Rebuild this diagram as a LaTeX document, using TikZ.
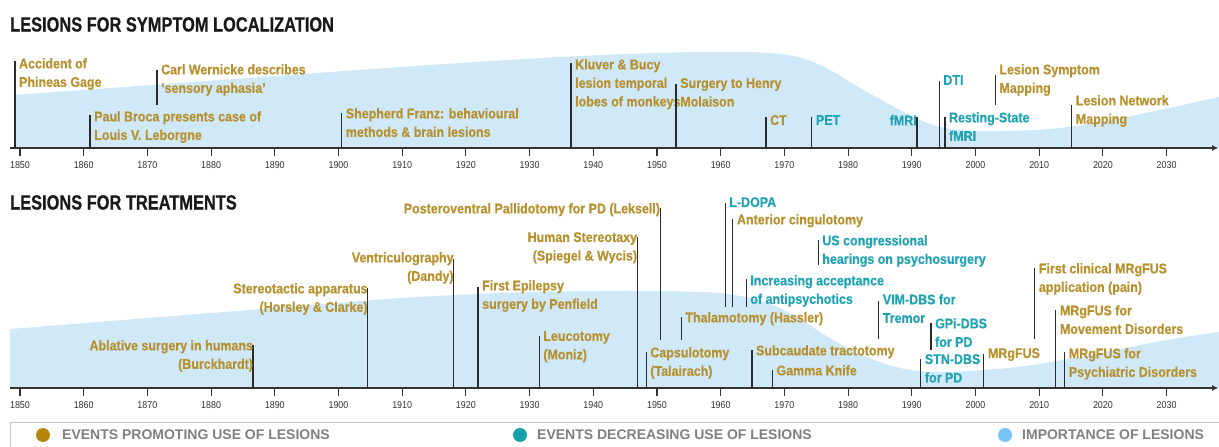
\documentclass[tikz,border=0pt]{standalone}
\usepackage{fontspec}
\setmainfont{Liberation Sans}
\newfontfamily\condfont[FakeStretch=0.89, BoldFeatures={FakeBold=0.5}]{Liberation Sans}
\newfontfamily\titlefont[FakeStretch=0.8, BoldFeatures={FakeBold=0.6}]{Liberation Sans}
\usetikzlibrary{arrows.meta}

\definecolor{gold}{HTML}{B8912F}
\definecolor{tealtxt}{HTML}{1FA2B2}
\definecolor{golddot}{HTML}{B5870F}
\definecolor{tealdot}{HTML}{13A1AA}
\definecolor{bluedot}{HTML}{76C4F7}
\definecolor{lesionblue}{HTML}{CFE9F8}
\definecolor{stemgray}{HTML}{2B2B2B}
\definecolor{axisgray}{HTML}{333333}
\definecolor{leggray}{HTML}{808080}
\definecolor{boxgray}{HTML}{C8C8C8}

\begin{document}
\begin{tikzpicture}[x=1pt, y=1pt,
  every node/.style={inner sep=0pt},
  ev/.style={font=\condfont\bfseries\fontsize{14pt}{18.5pt}\selectfont,
             align=left, anchor=north west, xshift=4pt},
  evl/.style={ev, align=right, anchor=north east, xshift=-4pt},
  up/.style={text=gold},
  down/.style={text=tealtxt},
  stem/.style={draw=stemgray, line width=1.3pt},
  axis/.style={draw=axisgray, line width=1.6pt, -{Latex[length=6pt, width=6pt]}},
  tick/.style={draw=axisgray, line width=1.1pt},
  year/.style={font=\condfont\fontsize{10pt}{12pt}\selectfont, text=axisgray},
  heading/.style={font=\titlefont\bfseries\fontsize{20.5pt}{24pt}\selectfont,
                  anchor=north west, text=black!90},
  legdot/.style={circle, minimum size=14pt, fill=#1},
  legtxt/.style={font=\bfseries\fontsize{14pt}{16pt}\selectfont, text=leggray, anchor=west},
  area/.style={fill=lesionblue},
]
\useasboundingbox (0,0) rectangle (1219,447);

% ── Importance of lesions (light blue bands) ─────────────────────────
\fill[area] (14,299) -- (14,352) -- plot[smooth, tension=0.6] coordinates {
  (400,380) (560,390) (700,395) (780,393) (820,382) (860,359) (900,337)
  (930,323) (960,317) (1000,316) (1050,318) (1100,325) (1160,337) (1219,350)}
  -- (1219,299) -- cycle;
\fill[area] (10,59) -- (10,118) -- plot[smooth, tension=0.6] coordinates {
  (400,149) (500,154) (600,156) (700,155) (740,151) (770,143) (800,128)
  (833,107) (867,90) (900,79) (933,75) (983,77) (1033,82) (1100,94)
  (1167,107) (1219,115)}
  -- (1219,59) -- cycle;

% ── Titles ───────────────────────────────────────────────────────────
\node[heading] (loc title)   at (10,430) {LESIONS FOR SYMPTOM LOCALIZATION};
\node[heading] (treat title) at (10,252) {LESIONS FOR TREATMENTS};

% ── Symptom localization timeline (1 year = 6.37pt) ──────────────────
\begin{scope}[x=6.37pt, shift={(-11764.5pt,299pt)}]
  \draw[axis] (1848.4,0) -- (2038.1,0);
  \foreach \decade in {1850,1860,...,2030} {
    \draw[tick] (\decade,-1) -- (\decade,-8);
    \node[year] (ta\decade) at (\decade,-17) {\decade};
  }

  \draw[stem] (1849.2,0) -- (1849.2,87);
  \node[ev, up] (gage) at (1849.2,90) {Accident of\\Phineas Gage};
  \draw[stem] (1861,0) -- (1861,33);
  \node[ev, up] (broca) at (1861,37) {Paul Broca presents case of\\Louis V. Leborgne};
  \draw[stem] (1871.5,43) -- (1871.5,78);
  \node[ev, up] (wernicke) at (1871.5,84) {Carl Wernicke describes\\‘sensory aphasia’};
  \draw[stem] (1900.5,0) -- (1900.5,35);
  \node[ev, up] (franz) at (1900.5,40) {Shepherd Franz: behavioural\\methods \& brain lesions};
  \draw[stem] (1936.5,0) -- (1936.5,85);
  \node[ev, up] (kluver) at (1936.5,89) {Kluver \& Bucy\\lesion temporal\\lobes of monkeys};
  \draw[stem] (1953,0) -- (1953,64);
  \node[ev, up] (molaison) at (1953,70) {Surgery to Henry\\Molaison};
  \draw[stem] (1967.1,0) -- (1967.1,31);
  \node[ev, up] (ct) at (1967.1,33) {CT};
  \draw[stem] (1974.3,0) -- (1974.3,31);
  \node[ev, down] (pet) at (1974.3,33) {PET};
  \draw[stem] (1990.8,0) -- (1990.8,31);
  \node[evl, down] (fmri) at (1990.8,33) {fMRI};
  \draw[stem] (1994.3,0) -- (1994.3,67);
  \node[ev, down] (dti) at (1994.3,73) {DTI};
  \draw[stem] (1995.2,0) -- (1995.2,31);
  \node[ev, down] (rsfmri) at (1995.2,36) {Resting-State\\fMRI};
  \draw[stem] (2003.1,43) -- (2003.1,73);
  \node[ev, up] (lsm) at (2003.1,84) {Lesion Symptom\\Mapping};
  \draw[stem] (2015.1,0) -- (2015.1,43);
  \node[ev, up] (lnm) at (2015.1,53) {Lesion Network\\Mapping};
\end{scope}

% ── Treatment timeline ───────────────────────────────────────────────
\begin{scope}[x=6.37pt, shift={(-11764.5pt,59pt)}]
  \draw[axis] (1848.4,0) -- (2038.1,0);
  \foreach \decade in {1850,1860,...,2030} {
    \draw[tick] (\decade,-1) -- (\decade,-8);
    \node[year] (tb\decade) at (\decade,-17) {\decade};
  }

  \draw[stem] (1886.6,0) -- (1886.6,43);
  \node[evl, up] (ablative) at (1886.6,48) {Ablative surgery in humans\\(Burckhardt)};
  \draw[stem] (1904.6,0) -- (1904.6,100);
  \node[evl, up] (horsley) at (1904.6,105) {Stereotactic apparatus\\(Horsley \& Clarke)};
  \draw[stem] (1918.1,0) -- (1918.1,129);
  \node[evl, up] (dandy) at (1918.1,136) {Ventriculography\\(Dandy)};
  \draw[stem] (1921.9,0) -- (1921.9,101);
  \node[ev, up] (penfield) at (1921.9,108) {First Epilepsy\\surgery by Penfield};
  \draw[stem] (1931.5,0) -- (1931.5,52);
  \node[ev, up] (moniz) at (1931.5,57) {Leucotomy\\(Moniz)};
  \draw[stem] (1946.9,0) -- (1946.9,151);
  \node[evl, up] (spiegel) at (1946.9,156) {Human Stereotaxy\\(Spiegel \& Wycis)};
  \draw[stem] (1948.3,0) -- (1948.3,36);
  \node[ev, up] (talairach) at (1948.3,41) {Capsulotomy\\(Talairach)};
  \draw[stem] (1950.5,48) -- (1950.5,180);
  \node[evl, up] (leksell) at (1950.5,185) {Posteroventral Pallidotomy for PD (Leksell)};
  \draw[stem] (1953.8,48) -- (1953.8,71);
  \node[ev, up] (hassler) at (1953.8,76) {Thalamotomy (Hassler)};
  \draw[stem] (1960.7,81) -- (1960.7,185);
  \node[ev, down] (ldopa) at (1960.7,191) {L-DOPA};
  \draw[stem] (1961.9,81) -- (1961.9,169);
  \node[ev, up] (cingulotomy) at (1961.9,174) {Anterior cingulotomy};
  \draw[stem] (1964.0,81) -- (1964.0,109);
  \node[ev, down] (antipsych) at (1964.0,113) {Increasing acceptance\\of antipsychotics};
  \draw[stem] (1964.9,0) -- (1964.9,38);
  \node[ev, up] (subcaudate) at (1964.9,43) {Subcaudate tractotomy};
  \draw[stem] (1968.1,0) -- (1968.1,18);
  \node[ev, up] (gamma) at (1968.1,23) {Gamma Knife};
  \draw[stem] (1975.3,123) -- (1975.3,148);
  \node[ev, down] (hearings) at (1975.3,153) {US congressional\\hearings on psychosurgery};
  \draw[stem] (1984.8,49) -- (1984.8,87);
  \node[ev, down] (vim) at (1984.8,94) {VIM-DBS for\\Tremor};
  \draw[stem] (1991.4,0) -- (1991.4,29);
  \node[ev, down] (stn) at (1991.4,34) {STN-DBS\\for PD};
  \draw[stem] (1993.0,38) -- (1993.0,65);
  \node[ev, down] (gpi) at (1993.0,70) {GPi-DBS\\for PD};
  \draw[stem] (2001.3,0) -- (2001.3,34);
  \node[ev, up] (mrgfus) at (2001.3,40) {MRgFUS};
  \draw[stem] (2009.3,49) -- (2009.3,120);
  \node[ev, up] (pain) at (2009.3,125) {First clinical MRgFUS\\application (pain)};
  \draw[stem] (2012.6,0) -- (2012.6,78);
  \node[ev, up] (movement) at (2012.6,83) {MRgFUS for\\Movement Disorders};
  \draw[stem] (2014.0,0) -- (2014.0,36);
  \node[ev, up] (psychiatric) at (2014.0,40) {MRgFUS for\\Psychiatric Disorders};
\end{scope}

% ── Legend ───────────────────────────────────────────────────────────
\draw[draw=boxgray, line width=0.8pt] (10,0) -- (10,25) -- (1219,25);
\node[legdot=golddot] (dot up)   at (43,12)   {};
\node[legtxt] (key up)           at (62,12)   {EVENTS PROMOTING USE OF LESIONS};
\node[legdot=tealdot] (dot down) at (520,12)  {};
\node[legtxt] (key down)         at (537,12)  {EVENTS DECREASING USE OF LESIONS};
\node[legdot=bluedot] (dot area) at (1005,12) {};
\node[legtxt] (key area)         at (1022,12) {IMPORTANCE OF LESIONS};

\end{tikzpicture}
\end{document}
